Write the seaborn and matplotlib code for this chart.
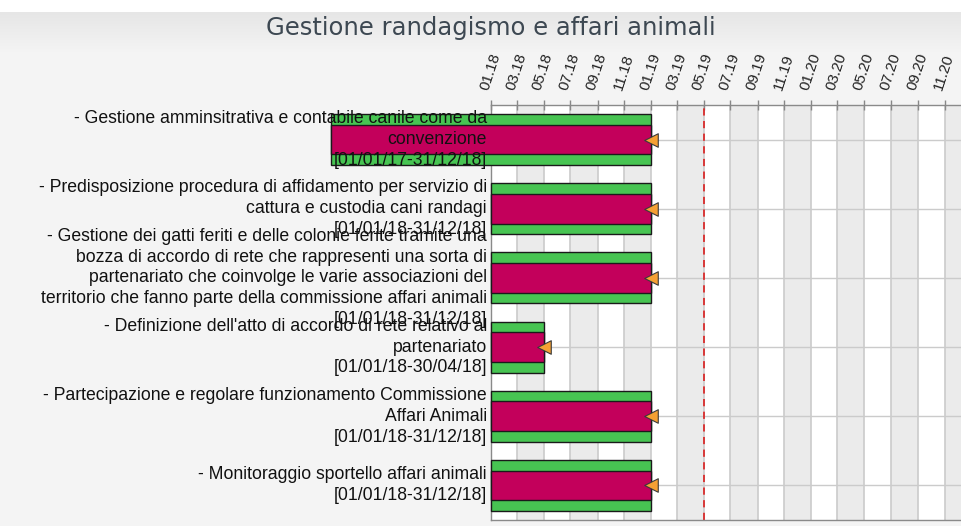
import datetime as dt

import matplotlib
matplotlib.use("Agg")
import matplotlib.pyplot as plt
import matplotlib.dates as mdates
import numpy as np
import pandas as pd
import seaborn as sns

# ---- data -------------------------------------------------------------
tasks = [
    "- Gestione amminsitrativa e contabile canile come da\nconvenzione",
    "- Predisposizione procedura di affidamento per servizio di\ncattura e custodia cani randagi",
    "- Gestione dei gatti feriti e delle colonie ferite tramite una\n"
    "bozza di accordo di rete che rappresenti una sorta di\n"
    "partenariato che coinvolge le varie associazioni del\n"
    "territorio che fanno parte della commissione affari animali",
    "- Definizione dell'atto di accordo di rete relativo al\npartenariato",
    "- Partecipazione e regolare funzionamento Commissione\nAffari Animali",
    "- Monitoraggio sportello affari animali",
]
starts = ["2017-01-01", "2018-01-01", "2018-01-01", "2018-01-01", "2018-01-01", "2018-01-01"]
ends = ["2018-12-31", "2018-12-31", "2018-12-31", "2018-04-30", "2018-12-31", "2018-12-31"]
today = "2019-05-01"
title = "Gestione randagismo e affari animali"

# ---- styling ----------------------------------------------------------
sns.set_theme(style="white")
plt.rcParams["font.family"] = ["Liberation Sans", "DejaVu Sans"]

GREEN = "#47c452"
MAGENTA = "#c3005b"
ORANGE = "#f5a033"
GRID = "#cbcbcb"
STRIPE = "#ebebeb"
BG = "#f4f4f4"

W, H = 962, 526
fig = plt.figure(figsize=(W / 100, H / 100), dpi=100, facecolor=BG)

# white strip at the very top and a soft title band below it
fig.patches.append(plt.Rectangle((0, 1 - 12 / H), 1, 12 / H, transform=fig.transFigure,
                                 facecolor="white", edgecolor="none", zorder=0))
band = fig.add_axes([0, 1 - 52 / H, 1, 40 / H], zorder=-1)
grad = np.linspace(0, 1, 64)[:, None]
band.imshow(grad, aspect="auto", cmap=matplotlib.colors.LinearSegmentedColormap.from_list(
    "band", ["#e6e6e6", BG]), extent=(0, 1, 0, 1))
band.set_axis_off()

fig.text(491 / W, 1 - 28 / H, title, ha="center", va="center",
         fontsize=17.5, color="#3d4852", family=["DejaVu Sans"])

ax = fig.add_axes([491 / W, 1 - 520 / H, (W - 491) / W, 415 / H])
ax.set_facecolor("white")

start_d = pd.to_datetime(starts)
end_d = pd.to_datetime(ends) + pd.Timedelta(days=1)  # end date is inclusive
x0 = mdates.date2num(start_d.to_pydatetime())
x1 = mdates.date2num(end_d.to_pydatetime())
rows = np.arange(len(tasks))

xmin = mdates.date2num(dt.datetime(2018, 1, 1))
xmax = xmin + 1074
ax.set_xlim(xmin, xmax)
ax.set_ylim(len(tasks) - 0.5, -0.5)

# alternating two-month column shading
col_edges = [mdates.date2num(dt.datetime(2018 + (m // 12), m % 12 + 1, 1))
             for m in range(0, 40, 2)]
for k in range(len(col_edges) - 1):
    if k % 2 == 1:
        ax.axvspan(col_edges[k], col_edges[k + 1], color=STRIPE, lw=0, zorder=0)

ax.xaxis.set_major_locator(mdates.MonthLocator(bymonth=[1, 3, 5, 7, 9, 11]))
ax.xaxis.set_major_formatter(mdates.DateFormatter("%m.%y"))
ax.xaxis.tick_top()
ax.grid(axis="x", color=GRID, lw=1.2, zorder=0.5)
ax.set_axisbelow(True)
for r in rows:
    ax.axhline(r, color=GRID, lw=1, zorder=0.6)

ax.tick_params(axis="x", which="major", top=True, bottom=False, direction="inout",
               length=7, width=1, color="#888888", pad=6, labelsize=11,
               labelcolor="#222222")
for lab in ax.get_xticklabels():
    lab.set_rotation(72)
    lab.set_ha("left")
    lab.set_va("bottom")
    lab.set_rotation_mode("anchor")
ax.set_yticks([])
for side, sp in ax.spines.items():
    sp.set_color("#8a8a8a")
    sp.set_linewidth(1)
ax.spines["right"].set_visible(False)

# today marker
ax.axvline(mdates.date2num(pd.Timestamp(today).to_pydatetime()), color="#d92b2b",
           lw=1.3, ls=(0, (4, 3)), zorder=1)

# gantt bars: full-height green bar with a magenta progress band
ax.barh(rows, x1 - x0, left=x0, height=0.735, color=GREEN, edgecolor="#1a1a1a",
        lw=1, zorder=3, clip_on=False)
ax.barh(rows, x1 - x0, left=x0, height=0.43, color=MAGENTA, edgecolor="#1a1a1a",
        lw=1, zorder=3.5, clip_on=False)

marks = pd.DataFrame({"x": x1, "y": rows})
sns.scatterplot(data=marks, x="x", y="y", marker="<", s=95, color=ORANGE,
                edgecolor="#3a3a3a", linewidth=0.8, zorder=4, clip_on=False, ax=ax,
                legend=False)
ax.set_xlabel("")
ax.set_ylabel("")

# task captions with their date range
for r, name, s, e in zip(rows, tasks, pd.to_datetime(starts), pd.to_datetime(ends)):
    caption = f"{name}\n[{s:%d/%m/%y}-{e:%d/%m/%y}]"
    ax.annotate(caption, xy=(0, r), xycoords=ax.get_yaxis_transform(),
                xytext=(-3, 0), textcoords="offset points", ha="right", va="center",
                multialignment="right", fontsize=12.7, color="#111111",
                linespacing=1.3, zorder=6, annotation_clip=False)

fig.savefig("out.png", dpi=100, facecolor=fig.get_facecolor())
